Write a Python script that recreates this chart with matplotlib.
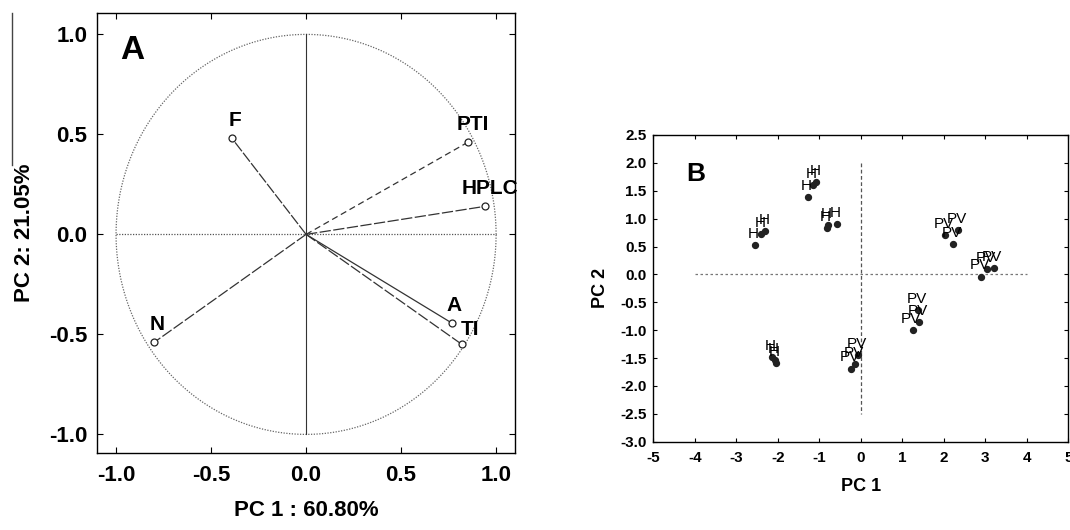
import numpy as np
import matplotlib
matplotlib.use('Agg')
import matplotlib.pyplot as plt
from matplotlib.lines import Line2D

plt.rcParams['font.family'] = ['Liberation Sans', 'DejaVu Sans']
plt.rcParams['axes.unicode_minus'] = False

# Panel A: loadings
var_names = ['F', 'PTI', 'HPLC', 'A', 'TI', 'N']
load_pc1 = [-0.39, 0.85, 0.94, 0.77, 0.82, -0.80]
load_pc2 = [0.48, 0.46, 0.14, -0.445, -0.55, -0.54]
var_styles = [(0, (9, 1.5)), (0, (5, 3)), (0, (9, 2)), '-', (0, (9, 2)), (0, (9, 2))]
lab_off = [(2, 6), (4, 6), (4, 6), (1, 6), (6, 4), (2, 6)]

# Panel B: scores
score_labels = ['H', 'H', 'H', 'H', 'H', 'H', 'H', 'H', 'H', 'H', 'H', 'H',
                'PV', 'PV', 'PV', 'PV', 'PV', 'PV', 'PV', 'PV', 'PV', 'PV', 'PV', 'PV']
score_pc1 = [-2.56, -2.40, -2.30, -1.28, -1.15, -1.07, -0.82, -0.79, -0.58, -2.14, -2.08, -2.05,
             -0.24, -0.14, -0.07, 1.25, 1.40, 1.38, 2.03, 2.22, 2.35, 2.90, 3.05, 3.20]
score_pc2 = [0.52, 0.73, 0.78, 1.38, 1.60, 1.65, 0.83, 0.89, 0.90, -1.49, -1.54, -1.59,
             -1.69, -1.61, -1.45, -1.00, -0.85, -0.64, 0.70, 0.55, 0.80, -0.04, 0.09, 0.11]

fig = plt.figure(figsize=(10.7, 5.3), dpi=100)

# ---- panel A
axA = fig.add_axes([0.0907, 0.1453, 0.3907, 0.8302])
t = np.linspace(0, 2 * np.pi, 400)
axA.plot(np.cos(t), np.sin(t), color='#666666', lw=0.9, ls=(0, (1, 1.2)))
axA.plot([-1, 1], [0, 0], color='#555555', lw=0.9, ls=(0, (1, 1.2)))
axA.plot([0, 0], [-1, 1], color='#333333', lw=0.8)
for i in range(len(var_names)):
    axA.plot([0, load_pc1[i]], [0, load_pc2[i]], color='#333333', lw=0.9, ls=var_styles[i])
    axA.plot(load_pc1[i], load_pc2[i], 'o', mfc='white', mec='#222222', ms=5, mew=0.9)
    axA.annotate(var_names[i], (load_pc1[i], load_pc2[i]), xytext=lab_off[i],
                 textcoords='offset points', ha='center', va='bottom',
                 fontsize=15, fontweight='bold')
axA.text(-0.98, 0.92, 'A', fontsize=24, fontweight='bold', va='center')
axA.set_xlim(-1.1, 1.1)
axA.set_ylim(-1.093, 1.107)
axA.set_xticks([-1.0, -0.5, 0.0, 0.5, 1.0])
axA.set_yticks([-1.0, -0.5, 0.0, 0.5, 1.0])
axA.tick_params(direction='in', top=True, right=True, length=4, labelsize=16)
axA.tick_params(axis='x', pad=9)
axA.tick_params(axis='y', pad=7)
for lab in axA.get_xticklabels() + axA.get_yticklabels():
    lab.set_fontweight('bold')
axA.set_xlabel('PC 1 : 60.80%', fontsize=16, fontweight='bold', labelpad=10)
axA.set_ylabel('PC 2: 21.05%', fontsize=16, fontweight='bold', labelpad=10)
for s in axA.spines.values():
    s.set_linewidth(1.0)

# stray vertical line at the left edge
fig.add_artist(Line2D([12 / 1070, 12 / 1070], [1 - 13 / 530, 1 - 165 / 530],
                      color='#444444', lw=1.0))

# ---- panel B
axB = fig.add_axes([0.6106, 0.1666, 0.3879, 0.5787])
axB.plot([-4, 4], [0, 0], color='#777777', lw=0.9, ls=(0, (2, 2)))
axB.plot([0, 0], [2.0, -2.5], color='#555555', lw=0.9, ls=(0, (3, 2)))
axB.scatter(score_pc1, score_pc2, s=18, color='#222222', zorder=3)
for i in range(len(score_labels)):
    axB.annotate(score_labels[i], (score_pc1[i], score_pc2[i]), xytext=(-1, 3),
                 textcoords='offset points', ha='center', va='bottom', fontsize=11)
axB.text(-4.2, 1.8, 'B', fontsize=19, fontweight='bold', va='center')
axB.set_xlim(-5, 5)
axB.set_ylim(-3.0, 2.5)
axB.set_xticks(np.arange(-5, 6, 1))
axB.set_yticks(np.arange(-3.0, 2.51, 0.5))
axB.set_yticklabels(['%.1f' % v for v in np.arange(-3.0, 2.51, 0.5)])
axB.tick_params(direction='in', top=True, right=True, length=3, labelsize=11)
axB.tick_params(axis='x', pad=7)
axB.tick_params(axis='y', pad=5)
for lab in axB.get_xticklabels() + axB.get_yticklabels():
    lab.set_fontweight('bold')
axB.set_xlabel('PC 1', fontsize=13, fontweight='bold', labelpad=9)
axB.set_ylabel('PC 2', fontsize=13, fontweight='bold', labelpad=8)
for s in axB.spines.values():
    s.set_linewidth(1.0)

fig.savefig('out.png', dpi=100)
